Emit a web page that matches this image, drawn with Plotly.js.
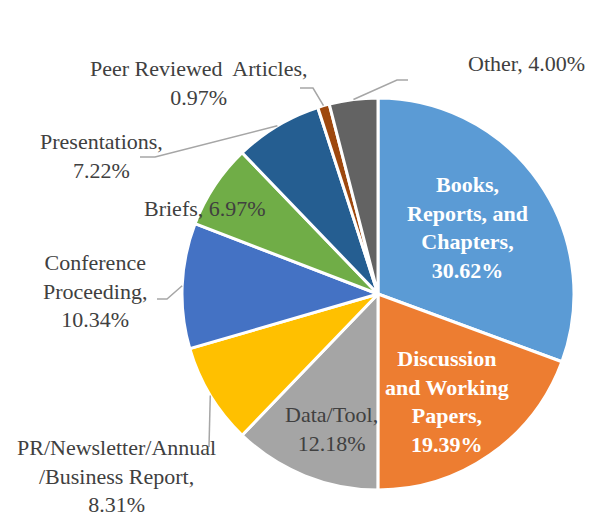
<!DOCTYPE html>
<html>
<head>
<meta charset="utf-8">
<script src="https://cdn.plot.ly/plotly-3.0.1.min.js"></script>
</head>
<body style="margin:0;background:#fff">
<div id="chart"></div>
<script>
// ---- data ----
const categories = [
  "Books, Reports, and Chapters",
  "Discussion and Working Papers",
  "Data/Tool",
  "PR/Newsletter/Annual /Business Report",
  "Conference Proceeding",
  "Briefs",
  "Presentations",
  "Peer Reviewed Articles",
  "Other"
];
const shares = [30.62, 19.39, 12.18, 8.31, 10.34, 6.97, 7.22, 0.97, 4.00];
const colors = ["#5B9BD5", "#ED7D31", "#A5A5A5", "#FFC000", "#4472C4", "#70AD47", "#255E91", "#9E480E", "#636363"];

// label text lines (display)
const labelLines = [
  ["Books,", "Reports, and", "Chapters,"],
  ["Discussion", "and Working", "Papers,"],
  ["Data/Tool,"],
  ["PR/Newsletter/Annual", "/Business Report,"],
  ["Conference", "Proceeding,"],
  ["Briefs, "],
  ["Presentations,"],
  ["Peer Reviewed  Articles,"],
  ["Other, "]
];

// ---- layout geometry (pixels) ----
const W = 593, H = 515;
const cx = 378, cy = 294, R = 196;
const FONT = "serif";

const labelPos = [
  {x: 467, y: 227, inside: true},
  {x: 447, y: 401, inside: true},
  {x: 331, y: 429, inside: true, dark: true},
  {x: 116, y: 476},
  {x: 95, y: 291},
  {x: 205, y: 208, oneLine: true},
  {x: 101, y: 156},
  {x: 199, y: 83},
  {x: 526, y: 64, oneLine: true}
];
const leaderEnds = [
  null, null, null,
  [209, 447, 209, 447],
  [157, 299, 167, 299],
  null,
  [140, 157, 155, 157],
  [300, 88, 313, 88],
  [408, 80, 397, 80]
];

const px = x => x / W;
const py = y => 1 - y / H;

const annotations = [];
const shapes = [];
let cum = 0;
shares.forEach((v, i) => {
  const mid = (cum + v / 2) / 100 * 2 * Math.PI;
  cum += v;
  const pct = v.toFixed(2) + "%";
  const lp = labelPos[i];
  let text;
  if (lp.oneLine) text = labelLines[i].join("") + pct;
  else text = labelLines[i].concat([pct]).join("<br>");
  const white = lp.inside && !lp.dark;
  annotations.push({
    xref: "paper", yref: "paper",
    x: px(lp.x), y: py(lp.y),
    xanchor: "center", yanchor: "middle",
    text: white ? "<b>" + text + "</b>" : text,
    showarrow: false, align: "center",
    font: {family: FONT, size: 22, color: white ? "#FFFFFF" : "#404040"}
  });
  const le = leaderEnds[i];
  if (le) {
    const ex = cx + R * Math.sin(mid);
    const ey = cy - R * Math.cos(mid);
    shapes.push({
      type: "path", xref: "paper", yref: "paper",
      path: `M ${px(le[0])} ${py(le[1])} L ${px(le[2])} ${py(le[3])} L ${px(ex)} ${py(ey)}`,
      line: {color: "#A6A6A6", width: 1.5}
    });
  }
});

const trace = {
  type: "pie",
  labels: categories,
  values: shares,
  sort: false,
  direction: "clockwise",
  rotation: 0,
  textinfo: "none",
  hoverinfo: "none",
  marker: {colors: colors, line: {color: "#FFFFFF", width: 3}},
  domain: {x: [(cx - R) / W, (cx + R) / W], y: [(H - cy - R) / H, (H - cy + R) / H]},
  showlegend: false
};

const layout = {
  width: W, height: H,
  margin: {l: 0, r: 0, t: 0, b: 0},
  paper_bgcolor: "#FFFFFF",
  font: {family: FONT},
  showlegend: false,
  annotations: annotations,
  shapes: shapes
};

Plotly.newPlot("chart", [trace], layout, {displayModeBar: false, staticPlot: true});
</script>
</body>
</html>
